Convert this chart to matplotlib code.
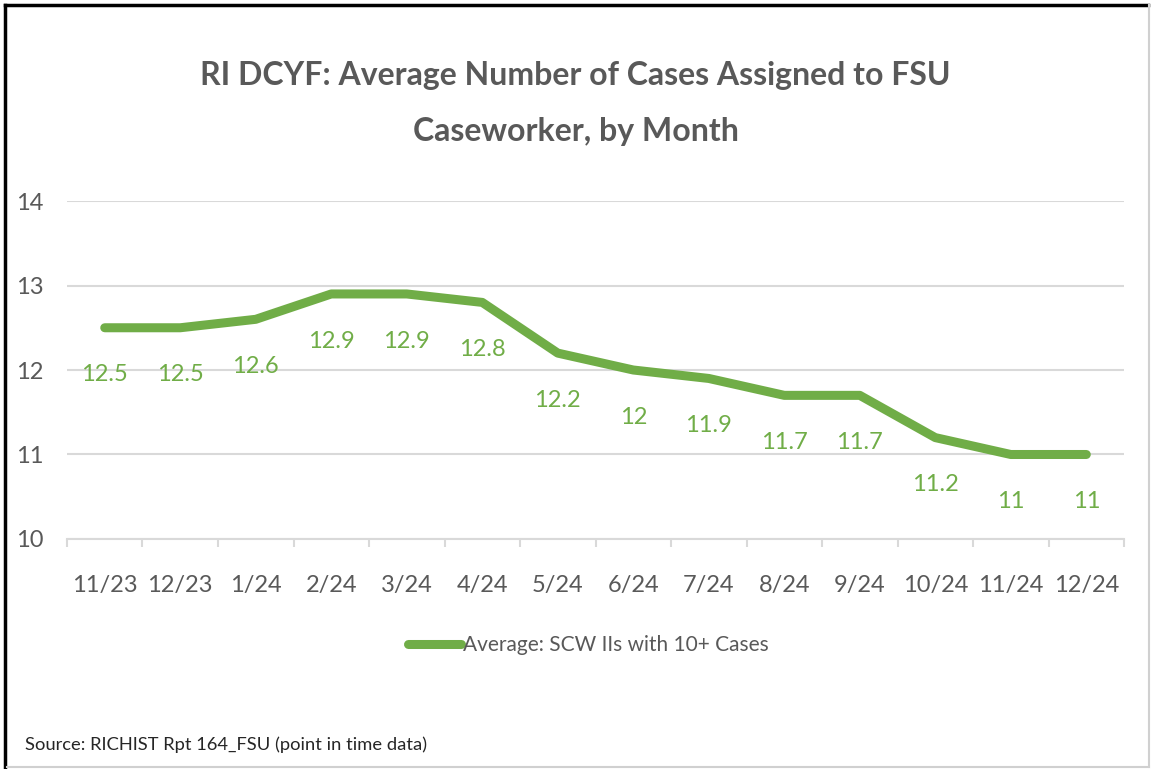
import numpy as np
import matplotlib
matplotlib.use("Agg")
import matplotlib.pyplot as plt
from matplotlib.lines import Line2D
from matplotlib.ticker import FixedLocator

plt.rcParams['font.family'] = ['Lato', 'DejaVu Sans']

# 数据
months = ["11/23", "12/23", "1/24", "2/24", "3/24", "4/24", "5/24",
          "6/24", "7/24", "8/24", "9/24", "10/24", "11/24", "12/24"]
avg_cases = [12.5, 12.5, 12.6, 12.9, 12.9, 12.8, 12.2,
             12.0, 11.9, 11.7, 11.7, 11.2, 11.0, 11.0]
value_labels = ["12.5", "12.5", "12.6", "12.9", "12.9", "12.8", "12.2",
                "12", "11.9", "11.7", "11.7", "11.2", "11", "11"]
y_ticks = [10, 11, 12, 13, 14]

green = '#70AD47'
gray_text = '#595959'
grid_gray = '#D9D9D9'

fig = plt.figure(figsize=(11.51, 7.69), dpi=100)
ax = fig.add_axes([0.0582, 0.2991, 0.9184, 0.4395])

x = np.arange(len(months))
ax.plot(x, avg_cases, color=green, linewidth=6.5, solid_capstyle='round',
        solid_joinstyle='round', zorder=3, label="Average: SCW IIs with 10+ Cases")

# 数据标签（点下方）
for xi, yi, lab in zip(x, avg_cases, value_labels):
    ax.annotate(lab, (xi, yi), xytext=(0, -34), textcoords='offset points',
                ha='center', va='center', color=green, fontsize=17)

ax.set_xlim(-0.5, len(months) - 0.5)
ax.set_ylim(10, 14)
ax.set_yticks(y_ticks)
ax.yaxis.grid(True, color=grid_gray, linewidth=1.5)
ax.set_axisbelow(True)

ax.set_xticks(x)
ax.set_xticklabels(months)
ax.xaxis.set_minor_locator(FixedLocator(np.arange(-0.5, len(months), 1.0)))
ax.tick_params(axis='x', which='major', length=0, pad=26, labelsize=17, labelcolor=gray_text)
ax.tick_params(axis='x', which='minor', length=6, width=1.5, color=grid_gray)
ax.tick_params(axis='y', length=0, pad=17, labelsize=17, labelcolor=gray_text)

for side in ['top', 'right', 'left']:
    ax.spines[side].set_visible(False)
ax.spines['bottom'].set_color(grid_gray)
ax.spines['bottom'].set_linewidth(1.5)

# 标题
fig.text(0.5, 0.902, "RI DCYF: Average Number of Cases Assigned to FSU",
         ha='center', va='center', fontsize=23, fontweight='bold', color=gray_text)
fig.text(0.5, 0.829, "Caseworker, by Month",
         ha='center', va='center', fontsize=23, fontweight='bold', color=gray_text)

# 图例
leg = fig.legend(loc='center', bbox_to_anchor=(0.511, 0.161), frameon=False,
                 fontsize=15, handlelength=2.55, handletextpad=0.1)
for t in leg.get_texts():
    t.set_color(gray_text)

# 来源
fig.text(0.022, 0.031, "Source: RICHIST Rpt 164_FSU (point in time data)",
         ha='left', va='center', fontsize=13.2, color='#262626')

# 边框
fig.add_artist(Line2D([0.004, 0.997], [0.994, 0.994], transform=fig.transFigure,
                      color='black', linewidth=2.5))
fig.add_artist(Line2D([0.004, 0.004], [0.003, 0.994], transform=fig.transFigure,
                      color='black', linewidth=2.5))
fig.add_artist(Line2D([0.998, 0.998], [0.002, 0.994], transform=fig.transFigure,
                      color='#D0D0D0', linewidth=1.5))
fig.add_artist(Line2D([0.006, 0.998], [0.002, 0.002], transform=fig.transFigure,
                      color='#D0D0D0', linewidth=1.5))

fig.savefig("out.png", dpi=100)
